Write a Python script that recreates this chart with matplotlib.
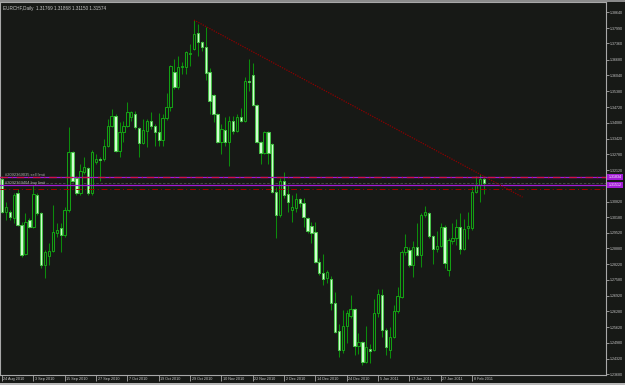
import matplotlib
matplotlib.use('Agg')
import matplotlib.pyplot as plt
import matplotlib.transforms as mtransforms
from matplotlib.transforms import ScaledTranslation
from matplotlib.patches import Rectangle
import numpy as np

plt.rcParams['font.family'] = ['Liberation Sans', 'DejaVu Sans']

header_text = "EURCHF,Daily  1.31769 1.31868 1.31150 1.31574"

opens = [1.3173, 1.3040, 1.3040, 1.3015, 1.3119, 1.2987, 1.2867, 1.3007, 1.2978, 1.3107,
         1.3036, 1.2821, 1.2858, 1.2879, 1.2953, 1.2974, 1.2945, 1.3049, 1.3285, 1.3181,
         1.3119, 1.3206, 1.3219, 1.3119, 1.3244, 1.3256, 1.3256, 1.3310, 1.3393, 1.3434,
         1.3289, 1.3368, 1.3393, 1.3430, 1.3442, 1.3384, 1.3322, 1.3372, 1.3413, 1.3393,
         1.3368, 1.3335, 1.3426, 1.3471, 1.3617, 1.3554, 1.3637, 1.3637, 1.3691, 1.3712,
         1.3778, 1.3741, 1.3720, 1.3617, 1.3521, 1.3442, 1.3326, 1.3376, 1.3326, 1.3413,
         1.3372, 1.3430, 1.3413, 1.3581, 1.3604, 1.3480, 1.3326, 1.3281, 1.3368, 1.3318,
         1.3123, 1.3028, 1.3165, 1.3115, 1.3049, 1.3057, 1.3094, 1.3074, 1.3015, 1.2982,
         1.2958, 1.2833, 1.2788, 1.2767, 1.2763, 1.2663, 1.2547, 1.2469, 1.2568, 1.2610,
         1.2639, 1.2485, 1.2502, 1.2419, 1.2473, 1.2469, 1.2622, 1.2697, 1.2551, 1.2469,
         1.2522, 1.2630, 1.2688, 1.2875, 1.2883, 1.2821, 1.2896, 1.2862, 1.3028, 1.3036,
         1.2941, 1.2887, 1.2900, 1.2978, 1.2800, 1.2920, 1.2933, 1.2978, 1.2887, 1.2974,
         1.2974, 1.3123, 1.3152, 1.31769]
highs = [1.3186, 1.3082, 1.3049, 1.3119, 1.3132, 1.2999, 1.3036, 1.3015, 1.3152, 1.3119,
         1.3040, 1.2883, 1.2912, 1.3069, 1.2995, 1.2995, 1.3061, 1.3389, 1.3289, 1.3186,
         1.3235, 1.3264, 1.3223, 1.3293, 1.3277, 1.3268, 1.3339, 1.3422, 1.3463, 1.3442,
         1.3409, 1.3413, 1.3492, 1.3455, 1.3455, 1.3389, 1.3422, 1.3422, 1.3451, 1.3401,
         1.3447, 1.3442, 1.3529, 1.3645, 1.3670, 1.3683, 1.3658, 1.3704, 1.3733, 1.3832,
         1.3815, 1.3745, 1.3803, 1.3633, 1.3525, 1.3447, 1.3401, 1.3430, 1.3434, 1.3434,
         1.3442, 1.3467, 1.3596, 1.3670, 1.3654, 1.3484, 1.3331, 1.3372, 1.3372, 1.3322,
         1.3140, 1.3181, 1.3202, 1.3152, 1.3111, 1.3119, 1.3098, 1.3098, 1.3020, 1.2999,
         1.2999, 1.2850, 1.2867, 1.2800, 1.2775, 1.2709, 1.2576, 1.2634, 1.2634, 1.2697,
         1.2643, 1.2539, 1.2506, 1.2568, 1.2493, 1.2680, 1.2721, 1.2721, 1.2560, 1.2564,
         1.2655, 1.2730, 1.2883, 1.2949, 1.2892, 1.2920, 1.2995, 1.3036, 1.3065, 1.3040,
         1.2945, 1.2962, 1.2995, 1.2987, 1.2933, 1.2995, 1.3011, 1.3036, 1.3011, 1.3040,
         1.3140, 1.3186, 1.3194, 1.31868]
lows = [1.3036, 1.3007, 1.3007, 1.2995, 1.2982, 1.2854, 1.2862, 1.2974, 1.2974, 1.3028,
        1.2808, 1.2767, 1.2821, 1.2875, 1.2937, 1.2875, 1.2937, 1.3040, 1.3161, 1.3111,
        1.3111, 1.3194, 1.3111, 1.3111, 1.3235, 1.3165, 1.3248, 1.3306, 1.3389, 1.3285,
        1.3264, 1.3326, 1.3389, 1.3413, 1.3380, 1.3264, 1.3318, 1.3306, 1.3380, 1.3310,
        1.3310, 1.3310, 1.3418, 1.3455, 1.3546, 1.3546, 1.3608, 1.3608, 1.3641, 1.3708,
        1.3683, 1.3704, 1.3583, 1.3442, 1.3409, 1.3322, 1.3277, 1.3310, 1.3227, 1.3360,
        1.3368, 1.3409, 1.3409, 1.3538, 1.3476, 1.3322, 1.3239, 1.3277, 1.3235, 1.3119,
        1.2933, 1.3020, 1.3098, 1.3040, 1.2999, 1.3040, 1.3061, 1.2978, 1.2953, 1.2912,
        1.2829, 1.2779, 1.2738, 1.2746, 1.2634, 1.2539, 1.2440, 1.2456, 1.2498, 1.2601,
        1.2448, 1.2452, 1.2407, 1.2415, 1.2415, 1.2464, 1.2605, 1.2522, 1.2448, 1.2435,
        1.2518, 1.2622, 1.2684, 1.2862, 1.2812, 1.2771, 1.2858, 1.2812, 1.3020, 1.2933,
        1.2825, 1.2875, 1.2892, 1.2808, 1.2775, 1.2908, 1.2904, 1.2867, 1.2883, 1.2929,
        1.2966, 1.3119, 1.3082, 1.31150]
closes = [1.3040, 1.3061, 1.3020, 1.3111, 1.2987, 1.2862, 1.2999, 1.2978, 1.3115, 1.3036,
          1.2821, 1.2875, 1.2879, 1.2958, 1.2966, 1.2945, 1.3049, 1.3285, 1.3165, 1.3119,
          1.3210, 1.3223, 1.3119, 1.3285, 1.3256, 1.3252, 1.3310, 1.3393, 1.3434, 1.3289,
          1.3368, 1.3393, 1.3451, 1.3451, 1.3389, 1.3322, 1.3376, 1.3413, 1.3393, 1.3368,
          1.3335, 1.3426, 1.3471, 1.3641, 1.3554, 1.3637, 1.3641, 1.3699, 1.3695, 1.3774,
          1.3741, 1.3720, 1.3612, 1.3496, 1.3442, 1.3326, 1.3380, 1.3326, 1.3413, 1.3372,
          1.3430, 1.3413, 1.3579, 1.3577, 1.3480, 1.3326, 1.3281, 1.3368, 1.3281, 1.3123,
          1.3028, 1.3165, 1.3111, 1.3082, 1.3061, 1.3094, 1.3074, 1.3020, 1.2962, 1.2953,
          1.2833, 1.2788, 1.2763, 1.2792, 1.2663, 1.2543, 1.2469, 1.2568, 1.2622, 1.2639,
          1.2485, 1.2502, 1.2419, 1.2481, 1.2464, 1.2622, 1.2701, 1.2551, 1.2481, 1.2522,
          1.2630, 1.2692, 1.2875, 1.2892, 1.2821, 1.2896, 1.2862, 1.3028, 1.3040, 1.2941,
          1.2887, 1.2900, 1.2978, 1.2829, 1.2924, 1.2933, 1.2978, 1.2887, 1.2970, 1.2982,
          1.3123, 1.3152, 1.3177, 1.31574]

date_labels = ["24 Aug 2010", "3 Sep 2010", "15 Sep 2010", "27 Sep 2010", "7 Oct 2010",
               "19 Oct 2010", "29 Oct 2010", "10 Nov 2010", "22 Nov 2010", "2 Dec 2010",
               "14 Dec 2010", "24 Dec 2010", "5 Jan 2011", "17 Jan 2011", "27 Jan 2011",
               "8 Feb 2011"]
date_label_bars = [0, 8, 16, 24, 32, 40, 48, 56, 64, 72, 80, 88, 96, 104, 112, 120]

price_ticks = [1.38640, 1.37990, 1.37360, 1.36680, 1.36040, 1.35380, 1.34720, 1.34080,
               1.33420, 1.32780, 1.32120, 1.30820, 1.30180, 1.29520, 1.28880, 1.28220,
               1.27580, 1.26920, 1.26280, 1.25620, 1.24980, 1.24320, 1.23680]

sell_limit_price = 1.31834
buy_limit_price = 1.31512
bid_price = 1.31574
red_level_price = 1.31345
sell_limit_label = "#2092369035 sell limit"
buy_limit_label = "#2092369404 buy limit"

trend_x = [49, 132.9]
trend_y = [1.3832, 1.3100]

BG = '#171916'
FG = '#c8c8c8'
WICK = '#0c8c0c'
BULL_EDGE = '#14a014'
BEAR_FACE = '#d4ffd4'
BEAR_EDGE = '#48c048'
PURPLE = '#a21cd6'
DARKRED = '#a00000'

W, H = 625, 385
fig = plt.figure(figsize=(W / 100, H / 100), dpi=100, facecolor=BG)
ax = fig.add_axes([0 / W, (H - 375) / H, 606 / W, (375 - 2) / H])
ax.set_facecolor(BG)

# window frame strips (top and bottom edges)
fig.patches.append(Rectangle((0, 1 - 1.5 / H), 1, 1.5 / H, transform=fig.transFigure,
                             facecolor='#8a8a8a', edgecolor='none', zorder=0))
fig.patches.append(Rectangle((0, 0), 1, 2 / H, transform=fig.transFigure,
                             facecolor='#b8b8b8', edgecolor='none', zorder=0))

n = len(opens)
idx = np.arange(n)
o = np.array(opens); h = np.array(highs); l = np.array(lows); c = np.array(closes)
bull = c >= o

ax.vlines(idx, l, h, color=WICK, linewidth=0.75, zorder=2)
bw = 0.6
ax.bar(idx[bull], (c - o)[bull], bottom=o[bull], width=bw, facecolor=BG,
       edgecolor=BULL_EDGE, linewidth=0.75, zorder=3)
ax.bar(idx[~bull], (o - c)[~bull], bottom=c[~bull], width=bw, facecolor=BEAR_FACE,
       edgecolor=BEAR_EDGE, linewidth=0.75, zorder=3)

# order / price lines
ax.axhline(sell_limit_price, color=PURPLE, linewidth=0.9, zorder=4)
ax.axhline(sell_limit_price, color='#d0104a', linewidth=0.9, linestyle=(0, (6, 3, 1, 3)), zorder=4)
ax.axhline(bid_price, color='#505050', linewidth=0.6, linestyle=(0, (3, 2)), zorder=1)
ax.axhline(buy_limit_price, color=PURPLE, linewidth=0.9, zorder=4)
ax.axhline(red_level_price, color=DARKRED, linewidth=0.7, linestyle=(0, (6, 3, 1, 3)), zorder=4)

# trend line
ax.plot(trend_x, trend_y, color='#8c0000', linewidth=0.9, linestyle=(0, (1, 1)), zorder=5)

ax.text(0.8, sell_limit_price, sell_limit_label, fontsize=2.9, color='#b0b0b0',
        va='bottom', ha='left', zorder=6)
ax.text(0.8, buy_limit_price, buy_limit_label, fontsize=2.9, color='#b0b0b0',
        va='bottom', ha='left', zorder=6)

ax.set_xlim(-0.51, 154.2)
ax.set_ylim(1.23650, 1.39066)

for s in ax.spines.values():
    s.set_color('#a8a8a8')
    s.set_linewidth(0.8)

ax.yaxis.tick_right()
ax.set_yticks(price_ticks)
ax.set_yticklabels([f"{p:.5f}" for p in price_ticks])
ax.tick_params(axis='y', colors=FG, labelsize=2.6, length=2, width=0.5, pad=1)

ax.set_xticks(date_label_bars)
ax.set_xticklabels(date_labels, ha='left')
ax.tick_params(axis='x', colors=FG, labelsize=2.7, length=4, width=0.5, pad=-2.5)
off = ScaledTranslation(1.5 / 100, 0, fig.dpi_scale_trans)
for lab in ax.get_xticklabels():
    lab.set_transform(lab.get_transform() + off)

# right-side price boxes
trans = mtransforms.blended_transform_factory(ax.transAxes, ax.transData)
for p in (sell_limit_price, buy_limit_price):
    ax.text(1.004, p, f"{p:.5f}", transform=trans, fontsize=2.6, color='white',
            va='center', ha='left', clip_on=False, zorder=7,
            bbox=dict(boxstyle='square,pad=0.3', facecolor=PURPLE, edgecolor='none'))

ax.text(0.005, 0.988, header_text, transform=ax.transAxes, fontsize=3.3, color=FG,
        va='top', ha='left')

fig.savefig('out.png', dpi=100, facecolor=BG)
